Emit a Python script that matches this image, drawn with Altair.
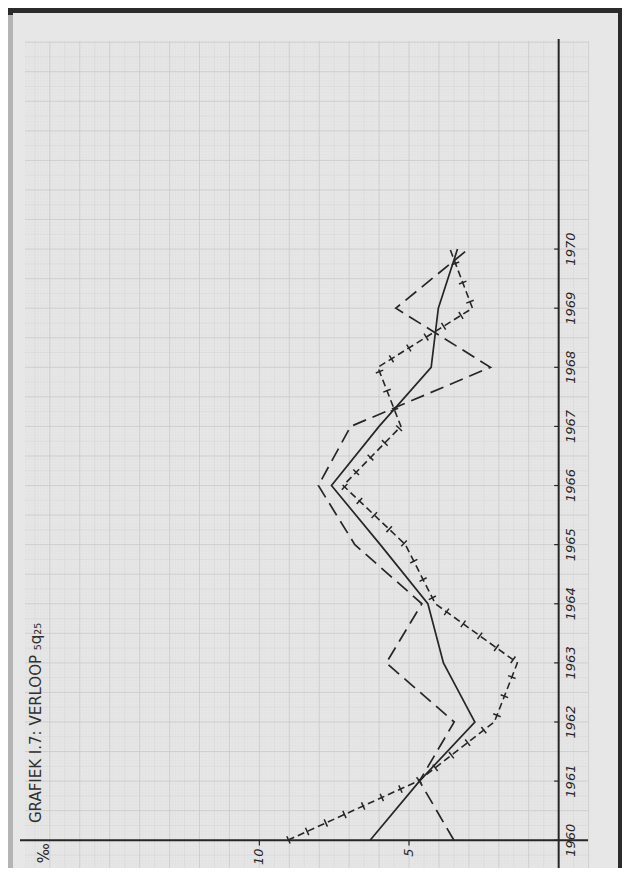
import altair as alt
import numpy as np
import pandas as pd

# ---- data ----
years = [1960, 1961, 1962, 1963, 1964, 1965, 1966, 1967, 1968, 1969, 1970]
solid = [6.3, 4.65, 2.8, 3.85, 4.37, 5.96, 7.59, 6.0, 4.26, 4.02, 3.38]
long_dash = [3.5, 4.65, 3.49, 5.76, 4.57, 6.81, 8.03, 6.95, 2.28, 5.44, 3.02]
dash_cross = [9.05, 4.7, 2.15, 1.38, 4.12, 5.12, 7.2, 5.27, 6.04, 2.88, 3.63]

value_ticks = [10, 5]
value_labels = ["10", "5"]
unit_label = "‰"
title_text = "GRAFIEK I.7:  VERLOOP ₅q₂₅"

# ---- styling ----
INK = "#262626"
PAPER = "#e7e7e7"
BG = "#2b2b2b"

W, H = 563, 827
xs = alt.Scale(domain=[-0.98, 17.83], reverse=True, nice=False, zero=False)
ys = alt.Scale(domain=[1959.53, 1973.52], nice=False, zero=False)

one = pd.DataFrame({"a": [0]})

paper = alt.Chart(one).mark_rect(color=PAPER).encode(
    x=alt.value(-12), x2=alt.value(593), y=alt.value(-28), y2=alt.value(840)
)
left_strip = alt.Chart(one).mark_rect(color="#b4b4b4").encode(
    x=alt.value(-17), x2=alt.value(-12), y=alt.value(-26), y2=alt.value(840)
)

# graph-paper grid (mm / half-cm / cm)
gx_minor = pd.DataFrame({"v": np.round(np.arange(-0.9, 17.83, 0.1), 2)})
gy_minor = pd.DataFrame({"t": np.round(np.arange(1959.55, 1973.5, 0.05), 3)})
gx_mid = pd.DataFrame({"v": np.arange(-0.5, 17.83, 1.0)})
gy_mid = pd.DataFrame({"t": np.arange(1959.75, 1973.5, 0.5)})
gx_major = pd.DataFrame({"v": np.arange(-1.0, 17.9, 1.0)})
gy_major = pd.DataFrame({"t": np.arange(1959.5, 1973.6, 0.5)})


def vgrid(df, color, w):
    return alt.Chart(df).mark_rule(color=color, strokeWidth=w).encode(
        x=alt.X("v:Q", scale=xs, axis=None)
    )


def hgrid(df, color, w):
    return alt.Chart(df).mark_rule(color=color, strokeWidth=w).encode(
        y=alt.Y("t:Q", scale=ys, axis=None)
    )


grid = [
    vgrid(gx_minor, "#e0e0e0", 0.5),
    hgrid(gy_minor, "#e0e0e0", 0.5),
    vgrid(gx_mid, "#d8d8d8", 0.6),
    hgrid(gy_mid, "#d8d8d8", 0.6),
    vgrid(gx_major, "#c9c9c9", 0.8),
    hgrid(gy_major, "#c9c9c9", 0.8),
]

# main axis lines
vaxis = alt.Chart(one).mark_rule(color=INK, strokeWidth=2).encode(
    x=alt.datum(0, scale=xs, axis=None), y=alt.value(-2), y2=alt.value(829)
)
haxis = alt.Chart(one).mark_rule(color=INK, strokeWidth=2).encode(
    y=alt.datum(1960, scale=ys, axis=None), x=alt.value(-5), x2=alt.value(563)
)

ydf = pd.DataFrame({"year": years, "lab": [str(y) for y in years]})
year_ticks = alt.Chart(ydf).mark_rule(color=INK, strokeWidth=1.2).encode(
    y=alt.Y("year:Q", scale=ys, axis=None),
    x=alt.datum(0, scale=xs, axis=None),
    x2=alt.datum(0.15),
)
year_text = alt.Chart(ydf).mark_text(
    font="DejaVu Sans", fontStyle="italic", fontSize=13, color=INK,
    angle=270, align="center", baseline="top",
).encode(
    y=alt.Y("year:Q", scale=ys, axis=None),
    x=alt.datum(-0.2, scale=xs, axis=None),
    text="lab:N",
)

vdf = pd.DataFrame({"v": value_ticks, "lab": value_labels})
val_ticks = alt.Chart(vdf).mark_rule(color=INK, strokeWidth=1.2).encode(
    x=alt.X("v:Q", scale=xs, axis=None),
    y=alt.datum(1960, scale=ys, axis=None),
    y2=alt.datum(1959.91),
)
val_text = alt.Chart(vdf).mark_text(
    font="DejaVu Sans", fontStyle="italic", fontSize=13, color=INK,
    angle=270, align="right", baseline="middle",
).encode(
    x=alt.X("v:Q", scale=xs, axis=None),
    y=alt.datum(1959.86, scale=ys, axis=None),
    text="lab:N",
)
unit_text = alt.Chart(pd.DataFrame({"lab": [unit_label]})).mark_text(
    font="DejaVu Sans", fontSize=15, color=INK,
    angle=270, align="right", baseline="middle",
).encode(
    x=alt.datum(17.2, scale=xs, axis=None),
    y=alt.datum(1959.95, scale=ys, axis=None),
    text="lab:N",
)

title = alt.Chart(pd.DataFrame({"lab": [title_text]})).mark_text(
    font="DejaVu Sans", fontSize=15, color="#303030",
    angle=270, align="left", baseline="middle",
).encode(x=alt.value(11), y=alt.value(782), text="lab:N")

# data lines
def series_df(vals):
    return pd.DataFrame({"year": years, "v": vals})


def line(df, **kw):
    return alt.Chart(df).mark_line(color=INK, **kw).encode(
        x=alt.X("v:Q", scale=xs, axis=None),
        y=alt.Y("year:Q", scale=ys, axis=None),
        order="year:Q",
    )


l_solid = line(series_df(solid), strokeWidth=1.7)
l_long = line(series_df(long_dash), strokeWidth=1.7, strokeDash=[14, 7])
l_cross_base = line(series_df(dash_cross), strokeWidth=1.6, strokeDash=[7, 4])
l_cross_bars = line(series_df(dash_cross), strokeWidth=8, strokeDash=[1.5, 19],
                    strokeCap="butt")

chart = alt.layer(
    paper, left_strip, *grid, vaxis, haxis, year_ticks, year_text,
    val_ticks, val_text, unit_text, title,
    l_long, l_solid, l_cross_base, l_cross_bars,
).properties(
    width=W, height=H,
    autosize=alt.AutoSizeParams(type="none"),
    padding={"left": 17, "top": 33, "right": 34, "bottom": 0},
    background=BG,
).configure_view(stroke=None)

chart.save("out.html", embed_options={"renderer": "svg", "actions": False})
